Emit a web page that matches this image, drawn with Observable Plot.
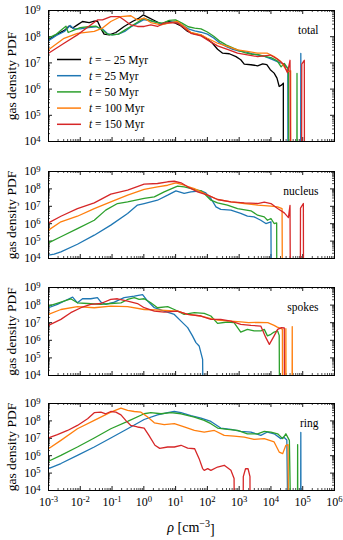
<!DOCTYPE html>
<html><head><meta charset="utf-8">
<script src="https://cdn.jsdelivr.net/npm/d3@7"></script>
<script src="https://cdn.jsdelivr.net/npm/@observablehq/plot@0.6"></script>
<style>
body{margin:0;background:#fff;}
#chart{position:relative;width:343px;height:540px;font-family:"Liberation Serif",serif;}
#chart svg{position:absolute;left:0;overflow:visible;}
</style></head><body><div id="chart"></div>
<script>
// empty histogram bin (drawn as a drop to the bottom, like matplotlib's log clip)
const E = -Infinity;
const times = ["\u2212 25", "25", "50", "100", "150"];
const colors = ["#000000", "#1f77b4", "#2ca02c", "#ff7f0e", "#d62728"];
const xMajorExp = [-3, -2, -1, 0, 1, 2, 3, 4, 5, 6];
const yMajorExp = [4, 5, 6, 7, 8, 9];
const panelNames = ["total", "nucleus", "spokes", "ring"];

// all pairs: [log10 rho (cm^-3), log10 PDF]
const total_m25 = [[-3,7.88],[-2.76,8.07],[-2.5,8.24],[-2.35,8.41],[-2.24,8.33],[-2.09,8.45],[-1.93,8.58],[-1.72,8.54],[-1.56,8.59],[-1.46,8.6],[-1.33,8.26],[-1.25,8.1],[-1.09,8.07],[-0.88,8.16],[-0.62,8.39],[-0.36,8.58],[-0.15,8.71],[-0.02,8.83],[0.12,8.75],[0.33,8.62],[0.54,8.49],[0.75,8.58],[0.96,8.54],[1.17,8.41],[1.38,8.2],[1.59,8.11],[1.8,8.06],[2.0,7.91],[2.16,7.75],[2.32,7.52],[2.48,7.37],[2.69,7.35],[2.9,7.24],[3.05,7.12],[3.16,6.95],[3.37,6.93],[3.58,6.89],[3.74,6.96],[3.87,6.93],[3.98,6.74],[4.1,6.61],[4.19,6.42],[4.26,6.1],[4.34,6.16],[4.39,6.23],[4.39,E]];
const total_25 = [[-3,7.85],[-2.75,8.05],[-2.5,8.2],[-2.32,8.43],[-2.2,8.3],[-2.0,8.3],[-1.75,8.35],[-1.5,8.38],[-1.3,8.3],[-1.15,8.12],[-1,8.07],[-0.8,8.1],[-0.6,8.2],[-0.4,8.38],[-0.2,8.52],[0,8.65],[0.2,8.6],[0.4,8.55],[0.6,8.47],[0.8,8.55],[1,8.57],[1.2,8.45],[1.4,8.3],[1.6,8.22],[1.8,8.17],[2,8.1],[2.2,7.95],[2.4,7.75],[2.6,7.62],[2.8,7.52],[3,7.45],[3.2,7.42],[3.4,7.35],[3.6,7.3],[3.8,7.25],[4,7.15],[4.2,7.05],[4.4,6.95],[4.53,6.8],[4.54,E],[4.93,E],[4.94,7.36],[4.95,E]];
const total_50 = [[-3,7.95],[-2.75,8.1],[-2.55,8.3],[-2.45,8.4],[-2.38,8.16],[-2.2,8.25],[-2.0,8.35],[-1.75,8.38],[-1.5,8.4],[-1.3,8.25],[-1.15,8.1],[-1.0,8.07],[-0.8,8.1],[-0.6,8.25],[-0.4,8.4],[-0.2,8.55],[0,8.7],[0.2,8.62],[0.4,8.55],[0.6,8.52],[0.8,8.62],[1.0,8.64],[1.2,8.52],[1.4,8.38],[1.6,8.33],[1.8,8.3],[2.0,8.18],[2.2,8.02],[2.4,7.82],[2.6,7.68],[2.8,7.57],[3.0,7.47],[3.2,7.38],[3.4,7.33],[3.6,7.32],[3.8,7.25],[4.0,7.2],[4.2,7.08],[4.32,6.85],[4.42,6.98],[4.55,6.75],[4.58,E],[4.81,E],[4.82,6.6],[4.83,E]];
const total_100 = [[-3,7.5],[-2.51,7.94],[-2.09,8.13],[-1.56,8.2],[-1.3,8.33],[-1.04,8.58],[-0.72,8.77],[-0.41,8.8],[-0.2,8.64],[0.01,8.71],[0.22,8.54],[0.54,8.45],[0.85,8.54],[1.06,8.58],[1.27,8.39],[1.48,8.16],[1.8,8.07],[2.0,7.94],[2.32,7.75],[2.63,7.63],[2.95,7.5],[3.26,7.44],[3.58,7.37],[3.89,7.37],[4.1,7.24],[4.31,7.05],[4.52,6.67],[4.62,6.7],[4.63,E]];
const total_150 = [[-3,7.37],[-2.51,7.75],[-2.09,8.07],[-1.77,8.36],[-1.46,8.64],[-1.3,8.64],[-1.04,8.77],[-0.78,8.77],[-0.62,8.64],[-0.41,8.45],[-0.2,8.39],[0.01,8.39],[0.22,8.45],[0.43,8.39],[0.64,8.52],[0.85,8.54],[1.06,8.52],[1.27,8.33],[1.48,8.13],[1.8,8.03],[2.0,7.88],[2.32,7.65],[2.63,7.52],[2.95,7.37],[3.26,7.31],[3.58,7.24],[3.98,7.3],[4.2,7.15],[4.4,6.95],[4.52,6.62],[4.6,7.1],[4.64,E],[4.96,E],[4.97,6.95],[5.05,7.1],[5.06,E]];

const nucleus_25 = [[-3,4.19],[-2.82,4.25],[-2.61,4.38],[-2.09,4.82],[-1.56,5.34],[-1.04,5.92],[-0.51,6.59],[-0.2,7.07],[0.01,7.16],[0.43,7.35],[0.75,7.64],[1.01,7.89],[1.27,7.74],[1.48,7.83],[1.8,7.89],[1.95,7.77],[2.11,7.45],[2.27,6.97],[2.42,6.82],[2.74,6.78],[3.05,6.59],[3.26,6.43],[3.47,6.39],[3.68,6.2],[3.84,6.01],[4.0,6.11],[4.02,E]];
const nucleus_50 = [[-3,4.9],[-2.61,5.25],[-2.09,5.72],[-1.56,6.2],[-1.2,6.78],[-0.83,7.16],[-0.51,7.26],[0.01,7.45],[0.33,7.54],[0.64,7.83],[1.06,8.16],[1.27,8.12],[1.59,7.97],[1.8,7.89],[1.9,7.74],[2.11,7.35],[2.32,7.2],[2.63,7.07],[2.95,6.87],[3.37,6.74],[3.58,6.49],[3.79,6.39],[3.89,6.2],[4.0,6.3],[4.1,6.01],[4.18,6.05],[4.19,E]];
const nucleus_100 = [[-3,5.63],[-2.61,6.11],[-2.09,6.43],[-1.56,6.87],[-1.04,7.26],[-0.51,7.64],[0.01,7.97],[0.43,8.12],[0.75,8.21],[1.01,8.35],[1.27,8.21],[1.59,8.02],[1.8,7.83],[2.01,7.64],[2.32,7.39],[2.74,7.26],[3.16,7.16],[3.58,7.07],[4.0,7.01],[4.21,6.97],[4.35,6.87],[4.37,E]];
const nucleus_150 = [[-3,6.05],[-2.61,6.43],[-2.09,6.87],[-1.56,7.2],[-1.04,7.7],[-0.51,7.93],[0.01,8.27],[0.43,8.31],[0.75,8.41],[0.96,8.44],[1.17,8.35],[1.38,8.12],[1.69,7.83],[2.01,7.64],[2.32,7.39],[2.74,7.26],[3.16,7.2],[3.58,7.16],[3.79,7.24],[4.0,7.16],[4.21,6.87],[4.42,6.62],[4.55,6.35],[4.6,7.05],[4.62,E],[4.92,E],[4.93,6.9],[5.02,7.16],[5.03,E]];

const spokes_25 = [[-3,7.85],[-2.72,8.04],[-2.4,8.32],[-2.24,8.45],[-2.09,8.13],[-1.93,8.36],[-1.67,8.36],[-1.46,8.42],[-1.35,8.17],[-1.2,8.04],[-0.93,8.17],[-0.62,8.42],[-0.3,8.51],[-0.04,8.6],[0.12,8.23],[0.33,7.85],[0.64,7.66],[0.96,7.47],[1.17,7.09],[1.38,6.72],[1.53,6.25],[1.64,5.87],[1.74,5.68],[1.85,4.92],[1.88,E]];
const spokes_50 = [[-3,7.94],[-2.61,8.17],[-2.3,8.36],[-2.09,8.13],[-1.77,8.09],[-1.35,8.04],[-1.04,8.09],[-0.72,8.13],[-0.51,8.32],[-0.3,8.42],[-0.15,8.32],[0.01,8.36],[0.22,8.13],[0.43,7.85],[0.75,7.91],[0.96,7.75],[1.27,7.47],[1.59,7.57],[1.9,7.53],[2.11,7.38],[2.32,6.96],[2.63,7.04],[2.84,7.0],[2.95,6.72],[3.05,6.47],[3.26,6.62],[3.47,6.53],[3.68,6.53],[3.79,6.62],[3.89,6.25],[4.0,6.34],[4.1,6.47],[4.21,6.53],[4.26,6.28],[4.28,E]];
const spokes_100 = [[-3,7.47],[-2.61,7.75],[-2.09,7.91],[-1.56,7.85],[-1.04,7.94],[-0.51,7.91],[0.01,7.75],[0.54,7.72],[1.06,7.66],[1.38,7.47],[1.8,7.38],[2.11,7.23],[2.32,7.15],[2.74,7.09],[3.05,7.05],[3.3,7.0],[3.6,7.02],[3.9,7.0],[4.1,6.85],[4.2,6.75],[4.36,6.64],[4.37,E],[4.46,E],[4.47,6.66],[4.48,E],[4.66,E],[4.67,6.78],[4.68,E]];
const spokes_150 = [[-3,6.85],[-2.61,7.19],[-2.3,7.57],[-1.98,7.85],[-1.67,8.04],[-1.35,8.09],[-1.04,8.32],[-0.83,8.36],[-0.51,8.23],[-0.2,8.09],[0.01,7.85],[0.33,7.66],[0.64,7.6],[1.06,7.66],[1.38,7.47],[1.8,7.38],[2.11,7.19],[2.42,7.19],[2.74,7.09],[3.05,6.91],[3.37,6.85],[3.68,6.81],[3.84,6.15],[3.95,5.77],[4.1,6.25],[4.21,6.62],[4.33,6.72],[4.42,6.7],[4.43,E]];

const ring_25 = [[-3,5.26],[-2.61,5.55],[-2.09,6.02],[-1.56,6.5],[-1.04,7.02],[-0.51,7.55],[0.01,8.08],[0.43,8.35],[0.75,8.47],[0.96,8.54],[1.17,8.47],[1.48,8.31],[1.8,8.16],[2.11,7.97],[2.42,7.59],[2.74,7.51],[3.05,7.4],[3.37,7.36],[3.68,7.17],[3.89,7.36],[4.1,7.26],[4.31,6.98],[4.4,7.07],[4.5,6.9],[4.56,E],[4.93,E],[4.94,7.34],[4.95,E]];
const ring_50 = [[-3,5.68],[-2.61,6.02],[-2.09,6.5],[-1.56,7.02],[-1.04,7.55],[-0.51,7.97],[0.01,8.41],[0.22,8.47],[0.54,8.41],[0.85,8.47],[1.17,8.41],[1.59,8.22],[1.9,8.03],[2.11,7.84],[2.32,7.59],[2.63,7.51],[2.95,7.45],[3.26,7.26],[3.58,7.26],[3.79,7.4],[4.0,7.36],[4.21,7.26],[4.37,6.98],[4.47,7.26],[4.58,6.88],[4.66,E],[4.83,E],[4.84,6.64],[4.85,E]];
const ring_100 = [[-3,6.4],[-2.61,6.88],[-2.09,7.55],[-1.56,8.03],[-1.04,8.5],[-0.72,8.73],[-0.51,8.6],[-0.3,8.54],[-0.09,8.5],[0.12,8.22],[0.33,7.89],[0.64,7.78],[0.96,7.84],[1.27,7.65],[1.59,7.45],[1.9,7.36],[2.22,7.45],[2.53,7.17],[2.84,7.13],[3.16,7.07],[3.47,6.94],[3.79,6.98],[4.1,6.79],[4.26,6.21],[4.37,6.12],[4.47,6.6],[4.54,6.63],[4.56,E]];
const ring_150 = [[-3,7.02],[-2.72,7.21],[-2.4,7.45],[-2.09,7.74],[-1.77,8.12],[-1.56,8.47],[-1.35,8.5],[-1.2,8.41],[-1.04,8.54],[-0.88,8.5],[-0.72,8.35],[-0.57,8.03],[-0.41,7.74],[-0.2,7.65],[0.01,7.59],[0.15,7.2],[0.35,6.6],[0.5,6.42],[0.75,6.5],[0.96,6.5],[1.17,6.6],[1.38,6.44],[1.6,6.4],[1.74,5.83],[1.85,5.26],[1.9,5.16],[2.01,5.26],[2.11,5.16],[2.32,5.35],[2.53,5.45],[2.74,5.16],[2.84,4.69],[2.86,E],[3.12,E],[3.13,4.8],[3.2,5.25],[3.28,5.25],[3.34,4.8],[3.35,E]];

const panelSeries = [
  [total_m25, total_25, total_50, total_100, total_150],
  [null, nucleus_25, nucleus_50, nucleus_100, nucleus_150],
  [null, spokes_25, spokes_50, spokes_100, spokes_150],
  [null, ring_25, ring_50, ring_100, ring_150]
];

// layout
const frameTops = [10, 171, 287, 403];
const frameHeights = [131, 87, 88, 87];
const ML = 48, MR = 9, MT = 10;
const W = 343 - ML - MR;

const xMajor = xMajorExp.map(e => 10 ** e);
const yMajor = yMajorExp.map(e => 10 ** e);
const xMinor = [], yMinor = [];
for (const e of xMajorExp.slice(0, -1)) for (let m = 2; m <= 9; m++) xMinor.push(m * 10 ** e);
for (const e of yMajorExp.slice(0, -1)) for (let m = 2; m <= 9; m++) yMinor.push(m * 10 ** e);

const fmt = d => "10^" + Math.round(Math.log10(d));
const ns = "http://www.w3.org/2000/svg";
function supify(svg) {
  svg.querySelectorAll('g[aria-label$="tick label"] text').forEach(t => {
    const s = t.textContent;
    if (!s.includes("^")) return;
    const [b, e] = s.split("^");
    t.textContent = "";
    const a = document.createElementNS(ns, "tspan"); a.textContent = b; t.appendChild(a);
    const c = document.createElementNS(ns, "tspan"); c.textContent = e;
    c.setAttribute("dy", "-0.42em"); c.setAttribute("font-size", "0.72em"); t.appendChild(c);
  });
}

const chart = document.getElementById("chart");
panelNames.forEach((name, p) => {
  const H = frameHeights[p];
  const last = p === 3;
  const MB = last ? 50 : 8;
  const marks = [];
  // inward ticks on all four sides
  const tk = (vals, len, sw) => [
    Plot.ruleX(vals, {x: d => d, insetTop: H - len, stroke: "black", strokeWidth: sw}),
    Plot.ruleX(vals, {x: d => d, insetBottom: H - len, stroke: "black", strokeWidth: sw})
  ];
  const tky = (vals, len, sw) => [
    Plot.ruleY(vals, {y: d => d, insetRight: W - len, stroke: "black", strokeWidth: sw}),
    Plot.ruleY(vals, {y: d => d, insetLeft: W - len, stroke: "black", strokeWidth: sw})
  ];
  marks.push(...tk(xMinor, 2, 0.7), ...tk(xMajor, 4, 0.9), ...tky(yMinor, 2, 0.7), ...tky(yMajor, 4, 0.9));
  panelSeries[p].forEach((arr, i) => {
    if (!arr) return;
    const rows = arr.map(([lx, ly]) => ({rho: 10 ** lx, pdf: 10 ** Math.max(ly, -2)}));
    marks.push(Plot.line(rows, {x: "rho", y: "pdf", stroke: colors[i], strokeWidth: 1.3, clip: true, curve: "linear"}));
  });
  marks.push(Plot.frame({stroke: "black", strokeWidth: 1}));
  marks.push(Plot.axisY({ticks: yMajor, tickFormat: fmt, tickSize: 0, tickPadding: 8, fontSize: 12, label: null}));
  if (last) marks.push(Plot.axisX({ticks: xMajor, tickFormat: fmt, tickSize: 0, tickPadding: 7, fontSize: 12, label: null}));
  marks.push(Plot.text([name], {text: d => d, frameAnchor: "top-right", dx: -16, dy: 15, textAnchor: "end", fontSize: 11.5}));
  marks.push(Plot.text(["gas density PDF"], {text: d => d, frameAnchor: "left", dx: -37, rotate: -90, textAnchor: "middle", fontSize: 13.5}));
  const svg = Plot.plot({
    width: 343, height: MT + H + MB,
    marginLeft: ML, marginRight: MR, marginTop: MT, marginBottom: MB,
    style: {fontFamily: "Liberation Serif", background: "none", overflow: "visible"},
    x: {type: "log", domain: [1e-3, 1e6], axis: last ? undefined : null},
    y: {type: "log", domain: [1e4, 1e9]},
    marks
  });
  svg.style.top = (frameTops[p] - MT) + "px";
  supify(svg);
  chart.appendChild(svg);

  if (p === 0) {
    const g = d3.select(svg).append("g").attr("font-size", 11.5).attr("font-family", "Liberation Serif")
      .attr("text-anchor", "start");
    times.forEach((t, i) => {
      const y = 59.5 + i * 16.2;
      g.append("line").attr("x1", 57).attr("x2", 81).attr("y1", y).attr("y2", y)
        .attr("stroke", colors[i]).attr("stroke-width", 1.5);
      const tx = g.append("text").attr("x", 89).attr("y", y).attr("dy", "0.35em").attr("text-anchor", "start");
      tx.append("tspan").attr("font-style", "italic").text("t");
      tx.append("tspan").text(" = " + t + " Myr");
    });
  }
  if (last) {
    const tx = d3.select(svg).append("text").attr("x", ML + W / 2).attr("y", MT + H + 37)
      .attr("text-anchor", "middle").attr("dy", "0.35em").attr("font-size", 14).attr("font-family", "Liberation Serif");
    tx.append("tspan").attr("font-style", "italic").text("\u03C1");
    tx.append("tspan").text(" [cm");
    tx.append("tspan").attr("dy", "-0.45em").attr("font-size", "0.72em").text("\u22123");
    tx.append("tspan").attr("dy", "0.45em").text("]");
  }
});
</script></body></html>
